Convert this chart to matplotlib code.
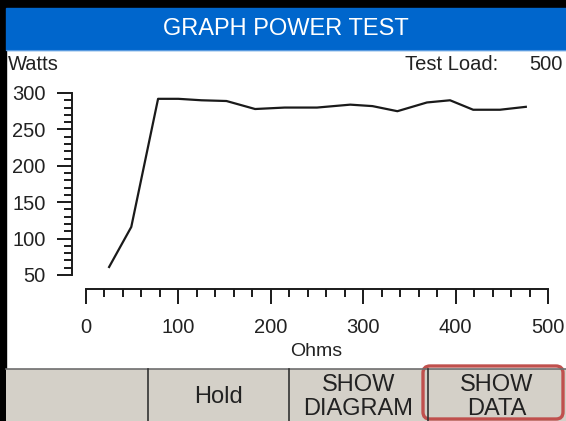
import matplotlib.pyplot as plt
from matplotlib.patches import Rectangle, FancyBboxPatch
from matplotlib.ticker import MultipleLocator

plt.rcParams['font.family'] = ['Liberation Sans', 'DejaVu Sans']

# data
ohms = [25, 49, 78, 100, 125, 152, 183, 215, 250, 286, 310, 337, 369, 394, 419, 448, 476]
watts = [61, 116, 292, 292, 290, 289, 278, 280, 280, 284, 282, 275, 287, 290, 277, 277, 281]
x_ticks = [0, 100, 200, 300, 400, 500]
y_ticks = [50, 100, 150, 200, 250, 300]
buttons = ['', 'Hold', 'SHOW\nDIAGRAM', 'SHOW\nDATA']
test_load = 500

W, H = 566, 421
fig = plt.figure(figsize=(W / 100, H / 100), dpi=100)

# background layer in pixel coordinates
bg = fig.add_axes([0, 0, 1, 1], zorder=0)
bg.set_xlim(0, W)
bg.set_ylim(H, 0)
bg.axis('off')

bg.add_patch(Rectangle((0, 0), W, 8, color='black'))
bg.add_patch(Rectangle((0, 0), 6, H, color='black'))
bg.add_patch(Rectangle((6, 8), W - 6, 42, color='#0066CC'))
bg.plot([6, W], [49.5, 49.5], color='#5A9BE0', lw=0.8)
bg.text(286, 29, 'GRAPH POWER TEST', color='white', fontsize=17,
        ha='center', va='center')

txt = '#222222'
bg.text(8, 65, 'Watts', color=txt, fontsize=14.5, ha='left', va='center')
bg.text(498, 65, 'Test Load:', color=txt, fontsize=14.5, ha='right', va='center')
bg.text(563, 65, str(test_load), color=txt, fontsize=14.5, ha='right', va='center')
bg.text(316, 352, 'Ohms', color=txt, fontsize=14, ha='center', va='center')

# button bar
bg.add_patch(Rectangle((6, 369), W - 6, H - 369, facecolor='#D4D0C8',
                       edgecolor='none'))
bg.plot([6, W], [369, 369], color='#6E6E6E', lw=1.2)
edges = [6, 148, 289, 428, W]
for xd in edges[1:-1]:
    bg.plot([xd, xd], [369, H], color='#333333', lw=1.2)
for i, label in enumerate(buttons):
    cx = (edges[i] + edges[i + 1]) / 2
    if i == 3:
        cx = 497
    bg.text(cx, 397, label, color=txt, fontsize=17, ha='center',
            va='center', linespacing=1.15)
bg.add_patch(FancyBboxPatch((423, 366), 140, 53,
                            boxstyle='round,pad=0,rounding_size=7',
                            facecolor='none', edgecolor='#C0504D', lw=2.4))

# chart
ax = fig.add_axes([86 / W, 1 - 275 / H, 462 / W, 182 / H], zorder=1)
ax.patch.set_alpha(0)
ax.plot(ohms, watts, color='#1a1a1a', lw=1.6)
ax.set_xlim(0, 500)
ax.set_ylim(50, 300)
for s in ['top', 'right']:
    ax.spines[s].set_visible(False)
ax.spines['left'].set_position(('outward', 10))
ax.spines['bottom'].set_position(('outward', 10))
ax.spines['left'].set_bounds(50, 300)
ax.spines['bottom'].set_bounds(0, 500)
for s in ['left', 'bottom']:
    ax.spines[s].set_linewidth(1.4)
    ax.spines[s].set_color('#1a1a1a')
ax.set_xticks(x_ticks)
ax.set_yticks(y_ticks)
ax.xaxis.set_minor_locator(MultipleLocator(20))
ax.yaxis.set_minor_locator(MultipleLocator(10))
ax.tick_params(which='major', direction='out', length=11, width=1.4,
               color='#1a1a1a', labelsize=14.5, labelcolor=txt)
ax.tick_params(which='minor', direction='out', length=5.5, width=1.4,
               color='#1a1a1a')
ax.tick_params(axis='y', which='major', pad=8)
ax.tick_params(axis='x', which='major', pad=10)

fig.savefig('out.png', dpi=100)
